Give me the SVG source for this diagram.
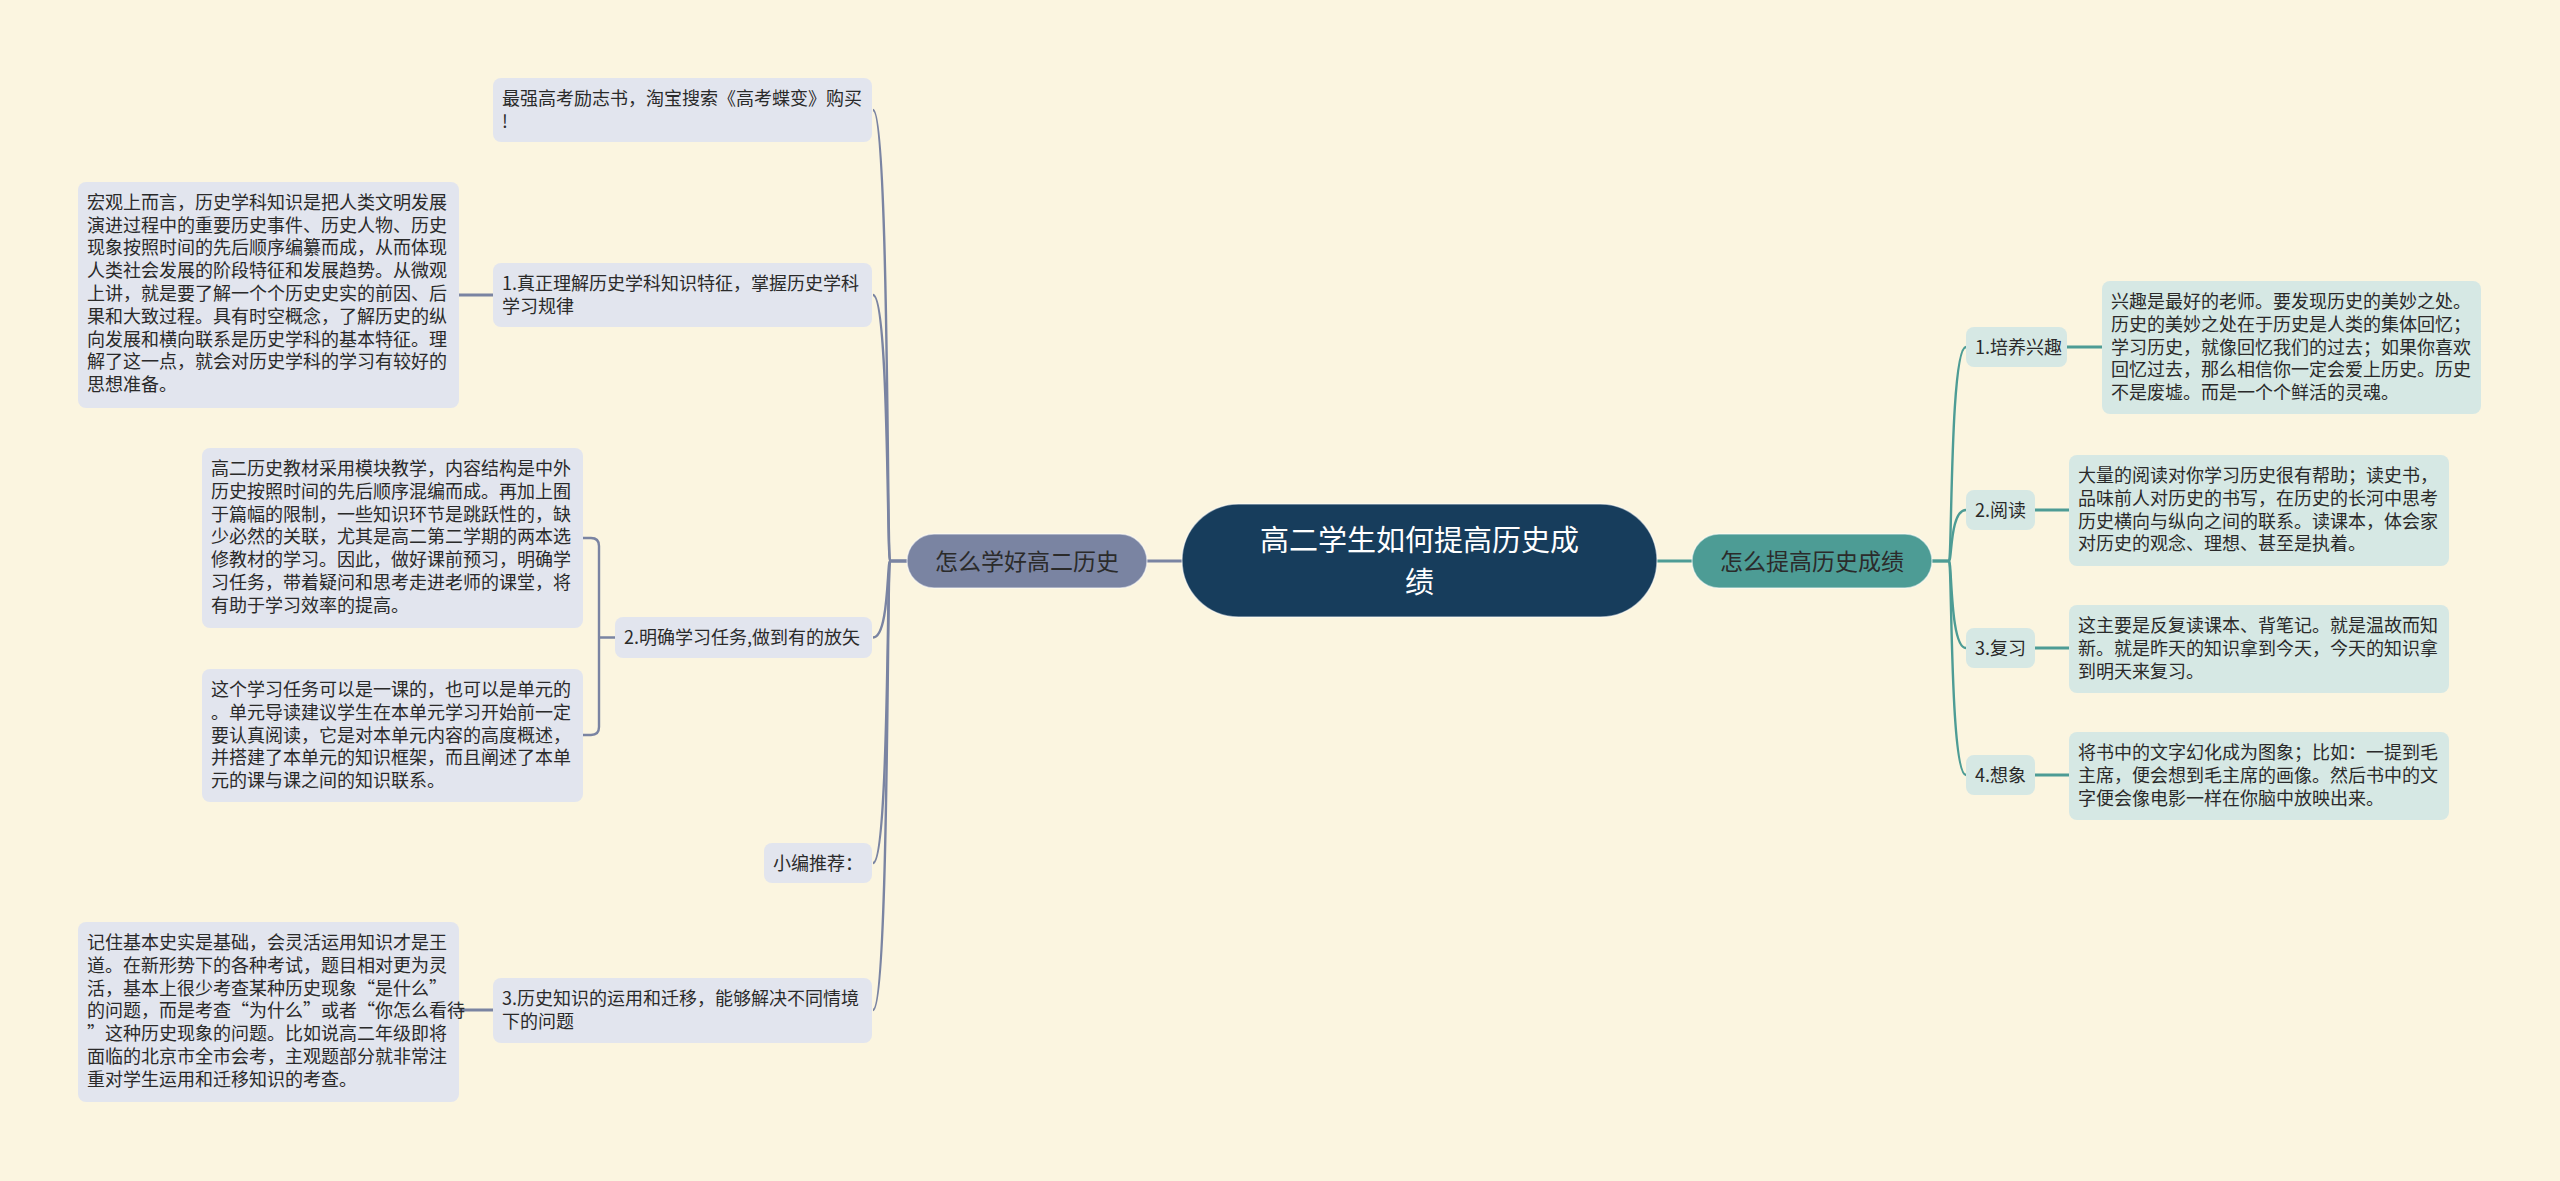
<svg xmlns="http://www.w3.org/2000/svg" width="2560" height="1181" viewBox="0 0 2560 1181">
<style>
text{font-family:"Noto Sans CJK SC","Noto Sans",sans-serif;}
.t{font-size:18px;fill:#2a2a2a;}
.ln{fill:#e2e5ee;}
.rn{fill:#d6e8e4;}
.cl{fill:none;stroke:#7a84a2;stroke-width:2.4;}
.cr{fill:none;stroke:#4d9c95;stroke-width:2.4;}
.cl3{fill:none;stroke:#7a84a2;stroke-width:3;}
.cr3{fill:none;stroke:#4d9c95;stroke-width:3;}
.main{font-size:23px;fill:#2b2b2b;}
</style>
<rect width="2560" height="1181" fill="#fbf5e0"/>
<g id="connectors">
<path class="cl3" d="M1182 561H1147"/>
<path class="cr3" d="M1657 561H1692"/>
<path class="cl" d="M907 561H890C887 561 889 110 873 110"/>
<path class="cl" d="M907 561H890C887 561 889 295 873 295"/>
<path class="cl" d="M907 561H890C887 561 889 637.5 873 637.5"/>
<path class="cl" d="M907 561H890C887 561 889 863 873 863"/>
<path class="cl" d="M907 561H890C887 561 889 1010 873 1010"/>
<path class="cl3" d="M459 295H493"/>
<path class="cl3" d="M459 1010H493"/>
<path class="cl" d="M583 538H591Q599 538 599 546V727Q599 735 591 735H583M599 637.5H615"/>
<path class="cr" d="M1932 561H1949C1952 561 1950 347 1966 347"/>
<path class="cr" d="M1932 561H1949C1952 561 1950 510 1966 510"/>
<path class="cr" d="M1932 561H1949C1952 561 1950 648 1966 648"/>
<path class="cr" d="M1932 561H1949C1952 561 1950 775 1966 775"/>
<path class="cr3" d="M2067 347H2102"/>
<path class="cr3" d="M2035 510H2069"/>
<path class="cr3" d="M2035 648H2069"/>
<path class="cr3" d="M2035 775H2069"/>
</g>
<g id="root">
<rect x="1182" y="504" width="475" height="113" rx="56.5" fill="#173d5c" stroke="#ffffff" stroke-opacity="0.5" stroke-width="1.5"/>
<text font-size="29" fill="#ffffff" text-anchor="middle"><tspan x="1419.5" y="551">高二学生如何提高历史成</tspan><tspan x="1419.5" y="593">绩</tspan></text>
</g>
<g id="main-left">
<rect x="907" y="534" width="240" height="54" rx="27" fill="#7a84a2" stroke="#ffffff" stroke-opacity="0.5" stroke-width="1.5"/>
<text class="main" x="1027" y="570" text-anchor="middle">怎么学好高二历史</text>
</g>
<g id="main-right">
<rect x="1692" y="534" width="240" height="54" rx="27" fill="#4d9c95" stroke="#ffffff" stroke-opacity="0.5" stroke-width="1.5"/>
<text class="main" x="1812" y="570" text-anchor="middle">怎么提高历史成绩</text>
</g>
<g id="l-ad">
<rect class="ln" x="493" y="78" width="379" height="64" rx="8"/>
<text class="t" x="502" y="105">最强高考励志书，淘宝搜索《高考蝶变》购买</text>
<text class="t" x="502" y="128">!</text>
</g>
<g id="l-1">
<rect class="ln" x="493" y="263" width="379" height="64" rx="8"/>
<text class="t" x="502" y="290">1.真正理解历史学科知识特征，掌握历史学科</text>
<text class="t" x="502" y="313">学习规律</text>
</g>
<g id="l-1-detail">
<rect class="ln" x="78" y="182" width="381" height="226" rx="8"/>
<text class="t" x="87" y="209">宏观上而言，历史学科知识是把人类文明发展</text>
<text class="t" x="87" y="232">演进过程中的重要历史事件、历史人物、历史</text>
<text class="t" x="87" y="254">现象按照时间的先后顺序编纂而成，从而体现</text>
<text class="t" x="87" y="277">人类社会发展的阶段特征和发展趋势。从微观</text>
<text class="t" x="87" y="300">上讲，就是要了解一个个历史史实的前因、后</text>
<text class="t" x="87" y="323">果和大致过程。具有时空概念，了解历史的纵</text>
<text class="t" x="87" y="346">向发展和横向联系是历史学科的基本特征。理</text>
<text class="t" x="87" y="368">解了这一点，就会对历史学科的学习有较好的</text>
<text class="t" x="87" y="391">思想准备。</text>
</g>
<g id="l-2">
<rect class="ln" x="615" y="617" width="257" height="41" rx="8"/>
<text class="t" x="624" y="644">2.明确学习任务,做到有的放矢</text>
</g>
<g id="l-2-detail-a">
<rect class="ln" x="202" y="448" width="381" height="180" rx="8"/>
<text class="t" x="211" y="475">高二历史教材采用模块教学，内容结构是中外</text>
<text class="t" x="211" y="498">历史按照时间的先后顺序混编而成。再加上囿</text>
<text class="t" x="211" y="521">于篇幅的限制，一些知识环节是跳跃性的，缺</text>
<text class="t" x="211" y="543">少必然的关联，尤其是高二第二学期的两本选</text>
<text class="t" x="211" y="566">修教材的学习。因此，做好课前预习，明确学</text>
<text class="t" x="211" y="589">习任务，带着疑问和思考走进老师的课堂，将</text>
<text class="t" x="211" y="612">有助于学习效率的提高。</text>
</g>
<g id="l-2-detail-b">
<rect class="ln" x="202" y="669" width="381" height="133" rx="8"/>
<text class="t" x="211" y="696">这个学习任务可以是一课的，也可以是单元的</text>
<text class="t" x="211" y="719">。单元导读建议学生在本单元学习开始前一定</text>
<text class="t" x="211" y="742">要认真阅读，它是对本单元内容的高度概述，</text>
<text class="t" x="211" y="764">并搭建了本单元的知识框架，而且阐述了本单</text>
<text class="t" x="211" y="787">元的课与课之间的知识联系。</text>
</g>
<g id="l-rec">
<rect class="ln" x="764" y="843" width="108" height="40" rx="8"/>
<text class="t" x="773" y="870">小编推荐：</text>
</g>
<g id="l-3">
<rect class="ln" x="493" y="978" width="379" height="65" rx="8"/>
<text class="t" x="502" y="1005">3.历史知识的运用和迁移，能够解决不同情境</text>
<text class="t" x="502" y="1028">下的问题</text>
</g>
<g id="l-3-detail">
<rect class="ln" x="78" y="922" width="381" height="180" rx="8"/>
<text class="t" x="87" y="949">记住基本史实是基础，会灵活运用知识才是王</text>
<text class="t" x="87" y="972">道。在新形势下的各种考试，题目相对更为灵</text>
<text class="t" x="87" y="995">活，基本上很少考查某种历史现象“是什么”</text>
<text class="t" x="87" y="1017">的问题，而是考查“为什么”或者“你怎么看待</text>
<text class="t" x="87" y="1040">”这种历史现象的问题。比如说高二年级即将</text>
<text class="t" x="87" y="1063">面临的北京市全市会考，主观题部分就非常注</text>
<text class="t" x="87" y="1086">重对学生运用和迁移知识的考查。</text>
</g>
<g id="r-1">
<rect class="rn" x="1966" y="327" width="101" height="40" rx="8"/>
<text class="t" x="1975" y="354">1.培养兴趣</text>
</g>
<g id="r-1-detail">
<rect class="rn" x="2102" y="281" width="379" height="133" rx="8"/>
<text class="t" x="2111" y="308">兴趣是最好的老师。要发现历史的美妙之处。</text>
<text class="t" x="2111" y="331">历史的美妙之处在于历史是人类的集体回忆；</text>
<text class="t" x="2111" y="354">学习历史，就像回忆我们的过去；如果你喜欢</text>
<text class="t" x="2111" y="376">回忆过去，那么相信你一定会爱上历史。历史</text>
<text class="t" x="2111" y="399">不是废墟。而是一个个鲜活的灵魂。</text>
</g>
<g id="r-2">
<rect class="rn" x="1966" y="490" width="69" height="40" rx="8"/>
<text class="t" x="1975" y="517">2.阅读</text>
</g>
<g id="r-2-detail">
<rect class="rn" x="2069" y="455" width="380" height="111" rx="8"/>
<text class="t" x="2078" y="482">大量的阅读对你学习历史很有帮助；读史书，</text>
<text class="t" x="2078" y="505">品味前人对历史的书写，在历史的长河中思考</text>
<text class="t" x="2078" y="528">历史横向与纵向之间的联系。读课本，体会家</text>
<text class="t" x="2078" y="550">对历史的观念、理想、甚至是执着。</text>
</g>
<g id="r-3">
<rect class="rn" x="1966" y="628" width="69" height="40" rx="8"/>
<text class="t" x="1975" y="655">3.复习</text>
</g>
<g id="r-3-detail">
<rect class="rn" x="2069" y="605" width="380" height="88" rx="8"/>
<text class="t" x="2078" y="632">这主要是反复读课本、背笔记。就是温故而知</text>
<text class="t" x="2078" y="655">新。就是昨天的知识拿到今天，今天的知识拿</text>
<text class="t" x="2078" y="678">到明天来复习。</text>
</g>
<g id="r-4">
<rect class="rn" x="1966" y="755" width="69" height="40" rx="8"/>
<text class="t" x="1975" y="782">4.想象</text>
</g>
<g id="r-4-detail">
<rect class="rn" x="2069" y="732" width="380" height="88" rx="8"/>
<text class="t" x="2078" y="759">将书中的文字幻化成为图象；比如：一提到毛</text>
<text class="t" x="2078" y="782">主席，便会想到毛主席的画像。然后书中的文</text>
<text class="t" x="2078" y="805">字便会像电影一样在你脑中放映出来。</text>
</g>
</svg>
